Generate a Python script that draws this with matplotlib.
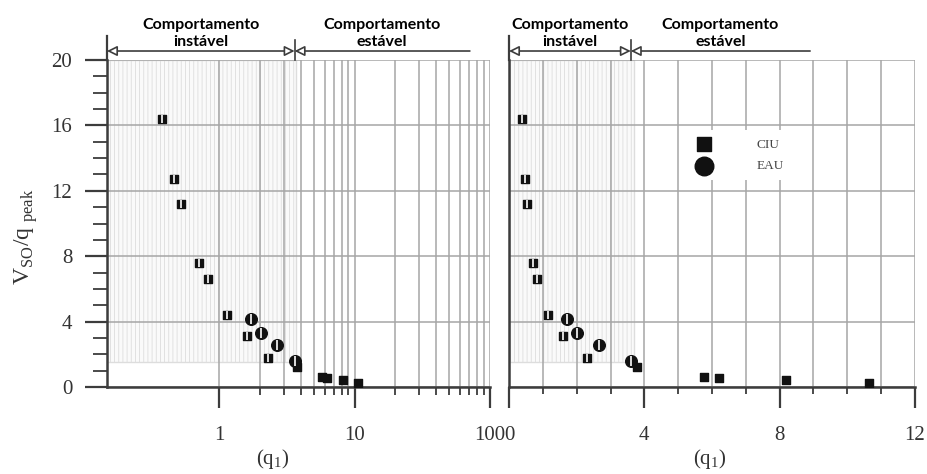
import matplotlib
matplotlib.use('Agg')
import matplotlib.pyplot as plt
import matplotlib.ticker as mticker
from matplotlib.patches import Rectangle
import numpy as np

# test results
ciu_q1 = [0.38, 0.46, 0.52, 0.71, 0.82, 1.14, 1.61, 2.30, 3.77, 5.75, 6.2, 8.18, 10.65]
ciu_v = [16.4, 12.7, 11.2, 7.6, 6.6, 4.42, 3.14, 1.77, 1.2, 0.63, 0.55, 0.41, 0.26]
eau_q1 = [1.71, 2.02, 2.65, 3.6]
eau_v = [4.14, 3.28, 2.55, 1.6]

# behaviour zones
limit_q1 = 3.6
shade_q1 = 3.7
shade_v = 1.5
stable_end_log = 71
stable_end_lin = 8.9

y_ticks = [0, 4, 8, 12, 16, 20]
log_ticks = [1, 10, 100]
log_minor = [2, 3, 4, 5, 6, 7, 8, 9, 20, 30, 40, 50, 60, 70, 80, 90]
lin_ticks = [0, 4, 8, 12]

plt.rcParams['font.family'] = ['Liberation Serif', 'DejaVu Serif']
plt.rcParams['hatch.linewidth'] = 0.6

dark = '#3c3c3c'
grid_c = '#a6a6a6'

fig = plt.figure(figsize=(9.27, 4.74), dpi=100)
ax1 = fig.add_axes([107 / 927, 1 - 387 / 474, 383 / 927, 327 / 474])
ax2 = fig.add_axes([509 / 927, 1 - 387 / 474, 406 / 927, 327 / 474])

ax1.set_xscale('log')
ax1.set_xlim(0.148, 100)
ax2.set_xlim(0, 12)

for ax in (ax1, ax2):
    ax.set_ylim(0, 20)
    ax.set_yticks(y_ticks)
    ax.set_axisbelow(True)
    ax.grid(True, axis='y', which='major', color=grid_c, lw=1.1)
    ax.grid(True, axis='x', which='both', color=grid_c, lw=1.1)
    for s in ('top', 'right'):
        ax.spines[s].set_visible(False)
    for s in ('left', 'bottom'):
        ax.spines[s].set_color(dark)
        ax.spines[s].set_linewidth(1.8)
    ax.tick_params(axis='both', which='major', direction='out', color=dark,
                   width=1.6, labelsize=15, labelcolor='#333333')
    ax.tick_params(axis='both', which='minor', direction='out', color=dark, width=1.3)
    ax.tick_params(axis='x', which='major', length=15, pad=13)

    x0 = ax.get_xlim()[0]
    ax.add_patch(Rectangle((x0, shade_v), shade_q1 - x0, 20 - shade_v,
                           facecolor='#fafafa', edgecolor='#dddddd',
                           hatch='||||', lw=1.0, zorder=0.2))

    ax.scatter(ciu_q1, ciu_v, marker='s', s=40, color='#111111', zorder=3, label='CIU')
    ax.scatter(eau_q1, eau_v, marker='o', s=70, color='#111111', zorder=3, label='EAU')

    # scanned markers inside the shaded zone show a pale stripe
    for qs, vs, sz in ((ciu_q1, ciu_v, 34), (eau_q1, eau_v, 60)):
        q = np.array(qs)
        v = np.array(vs)
        m = (q < shade_q1) & (v > shade_v)
        ax.scatter(q[m], v[m], marker='|', s=sz, color='white', linewidths=1.2, zorder=4)

# left axis (log)
ax1.set_xticks(log_ticks)
ax1.set_xticklabels([str(t) for t in log_ticks])
ax1.xaxis.set_minor_locator(mticker.FixedLocator(log_minor))
ax1.xaxis.set_minor_formatter(mticker.NullFormatter())
ax1.tick_params(axis='x', which='minor', length=6)
ax1.yaxis.set_minor_locator(mticker.MultipleLocator(1))
ax1.tick_params(axis='y', which='major', length=16, pad=9)
ax1.tick_params(axis='y', which='minor', length=10)
ax1.set_ylabel(r'V$_\mathregular{SO}$/q$_\mathregular{\ peak}$', fontsize=17, color='#333333')
ax1.yaxis.set_label_coords(-0.175, 0.46)
ax1.set_xlabel(r'(q$_\mathregular{1}$)', fontsize=15, color='#333333', va='top')
ax1.xaxis.set_label_coords(0.433, -0.185)

# right axis (linear)
ax2.set_xticks(lin_ticks)
ax2.set_xticklabels([str(t) for t in lin_ticks])
ax2.xaxis.set_minor_locator(mticker.MultipleLocator(1))
ax2.tick_params(axis='x', which='minor', length=5)
ax2.tick_params(axis='y', which='both', length=0, labelleft=False)
ax2.set_xlabel(r'(q$_\mathregular{1}$)', fontsize=15, color='#333333', va='top')
ax2.xaxis.set_label_coords(0.495, -0.185)

leg = ax2.legend(loc='upper left', bbox_to_anchor=(0.405, 0.805), frameon=True,
                 fancybox=False, framealpha=1, facecolor='white', edgecolor='none',
                 markerscale=1.6, fontsize=9.5, handlelength=2.4, handletextpad=2.8,
                 labelspacing=0.7, borderpad=0.6)
for t in leg.get_texts():
    t.set_color('#444444')

# zone annotations above the plots
ya = 20.55
lab_font = dict(family='Lato', weight='bold', size=11.5, color='black',
                ha='center', va='bottom', linespacing=1.3)
arrow_kw = dict(fc='white', ec=dark, lw=1.2, shrinkA=0, shrinkB=0)
panels = ((ax1, 0.148, stable_end_log, True), (ax2, 0, stable_end_lin, False))
for ax, x0, x_end, is_log in panels:
    ax.annotate('', xy=(limit_q1, ya), xytext=(x0, ya), annotation_clip=False,
                arrowprops=dict(arrowstyle='<|-|>,head_length=0.6,head_width=0.3', **arrow_kw))
    ax.annotate('', xy=(x_end, ya), xytext=(limit_q1, ya), annotation_clip=False,
                arrowprops=dict(arrowstyle='<|-,head_length=0.6,head_width=0.3', **arrow_kw))
    ax.plot([x0, x0], [20, 21.45], color=dark, lw=1.6, clip_on=False)
    ax.plot([limit_q1, limit_q1], [20, 21.2], color=dark, lw=1.2, clip_on=False)
    if is_log:
        c1 = np.sqrt(x0 * limit_q1)
        c2 = np.sqrt(limit_q1 * x_end)
    else:
        c1 = (x0 + limit_q1) / 2
        c2 = (limit_q1 + x_end) / 2
    ax.text(c1, 20.65, 'Comportamento\ninstável', **lab_font)
    ax.text(c2, 20.65, 'Comportamento\nestável', **lab_font)

fig.savefig('out.png', dpi=100)
